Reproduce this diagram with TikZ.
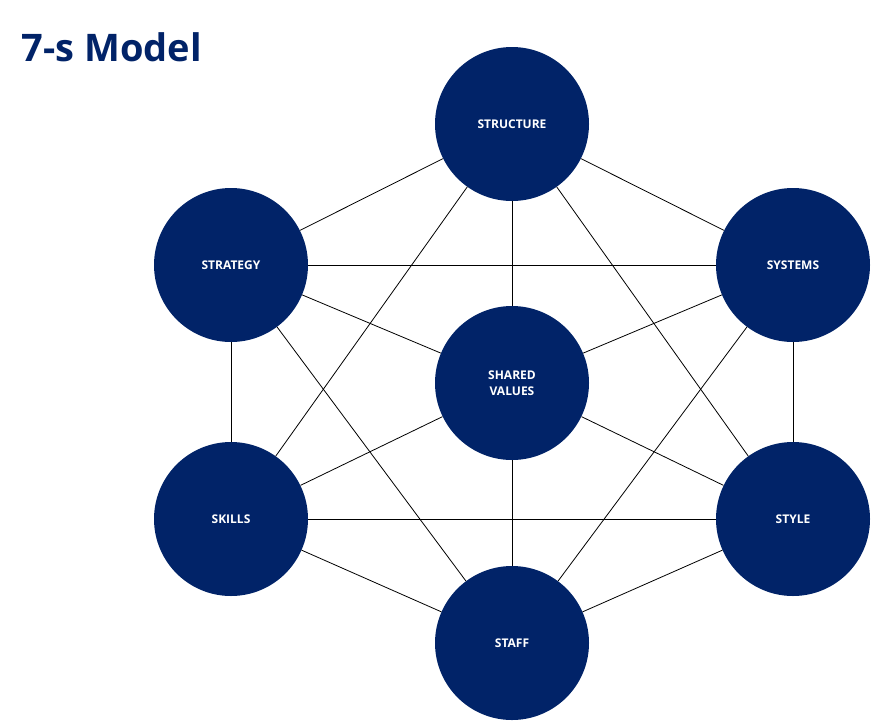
\documentclass[tikz,border=0pt]{standalone}
\usepackage{fontspec}
\setmainfont{Open Sans}
\definecolor{navy}{RGB}{1,35,104}
\begin{document}
\begin{tikzpicture}[x=1pt,y=-1pt,
  s node/.style={circle,fill=navy,minimum size=154pt,inner sep=0pt,
    text=white,font=\fontsize{12}{16}\selectfont\bfseries,align=center}]
  \useasboundingbox (0,0) rectangle (886,721);
  \node[anchor=west,text=navy,font=\fontsize{38}{40}\selectfont\bfseries] (title) at (18,47) {7-s Model};

  \node[s node] (structure) at (512,124) {STRUCTURE};
  \node[s node] (strategy) at (231,265) {STRATEGY};
  \node[s node] (systems) at (793,265) {SYSTEMS};
  \node[s node] (shared) at (512,383) {SHARED\\VALUES};
  \node[s node] (skills) at (231,519) {SKILLS};
  \node[s node] (style) at (793,519) {STYLE};
  \node[s node] (staff) at (512,643) {STAFF};

  \begin{scope}[on background layer/.style={}]
  \foreach \a/\b in {structure/strategy,structure/systems,structure/shared,structure/skills,structure/style,
      strategy/systems,strategy/shared,strategy/skills,strategy/staff,
      systems/shared,systems/style,systems/staff,
      shared/skills,shared/style,shared/staff,
      skills/style,skills/staff,style/staff}
    \draw[thick] (\a) -- (\b);
  \end{scope}
\end{tikzpicture}
\end{document}
